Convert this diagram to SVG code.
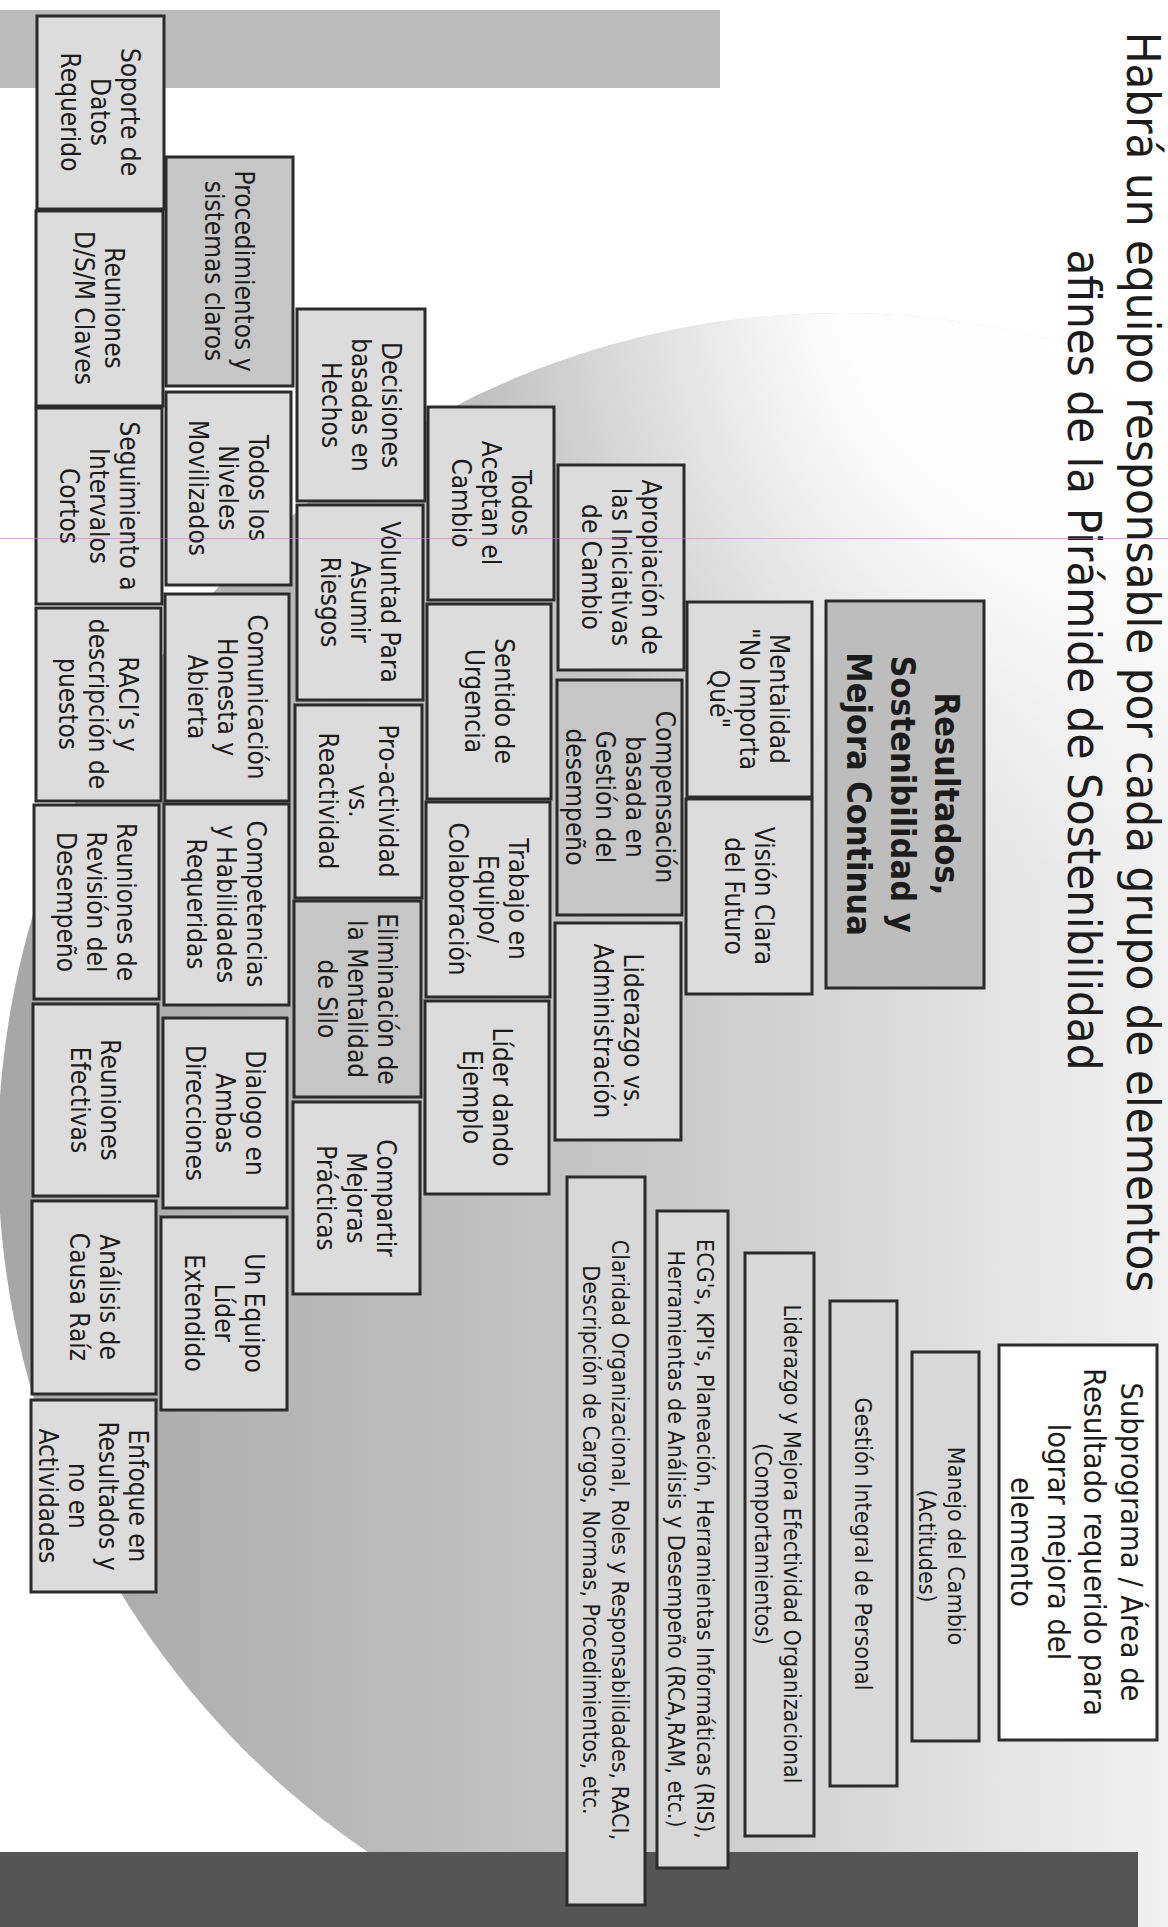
<svg xmlns="http://www.w3.org/2000/svg" width="1168" height="1927" viewBox="0 0 1168 1927">
<style>
.bx{fill:#dcdcdc;stroke:#2b2b2b;stroke-width:3}
.dk{fill:#c6c6c6;stroke:#2b2b2b;stroke-width:3}
.rs{fill:#bdbdbd;stroke:#2b2b2b;stroke-width:3}
.sb{fill:#d8d8d8;stroke:#2b2b2b;stroke-width:3}
.wh{fill:#ffffff;stroke:#2b2b2b;stroke-width:3}
.t{font-family:"DejaVu Sans","Liberation Sans",sans-serif;font-size:26px;fill:#1c1c1c;text-anchor:middle}
.tb{font-family:"DejaVu Sans","Liberation Sans",sans-serif;font-size:34px;font-weight:bold;fill:#1c1c1c;text-anchor:middle}
.ts{font-family:"DejaVu Sans","Liberation Sans",sans-serif;font-size:23px;fill:#1c1c1c;text-anchor:middle}
.tw{font-family:"DejaVu Sans","Liberation Sans",sans-serif;font-size:30.5px;fill:#1c1c1c;text-anchor:middle}
.tt{font-family:"DejaVu Sans","Liberation Sans",sans-serif;font-size:47px;fill:#1c1c1c;text-anchor:middle}
</style>
<defs>
<clipPath id="cc"><circle cx="840" cy="1155" r="842"/></clipPath>
<linearGradient id="lg" gradientUnits="userSpaceOnUse" x1="0" y1="0" x2="1168" y2="0">
<stop offset="0" stop-color="#a6a6a6"/>
<stop offset="0.55" stop-color="#c8c8c8"/>
<stop offset="0.75" stop-color="#d9d9d9"/>
<stop offset="0.88" stop-color="#e6e6e6"/>
<stop offset="1" stop-color="#f0f0f0"/>
</linearGradient>
<radialGradient id="rg" gradientUnits="userSpaceOnUse" cx="1100" cy="250" r="640">
<stop offset="0" stop-color="#ffffff" stop-opacity="1"/>
<stop offset="0.42" stop-color="#ffffff" stop-opacity="0.95"/>
<stop offset="0.7" stop-color="#ffffff" stop-opacity="0.45"/>
<stop offset="1" stop-color="#ffffff" stop-opacity="0"/>
</radialGradient>
</defs>
<rect x="0" y="0" width="1168" height="1927" fill="#ffffff"/>
<g id="background">
<g clip-path="url(#cc)">
<rect x="0" y="300" width="1168" height="1627" fill="url(#lg)"/>
<rect x="0" y="300" width="1168" height="1627" fill="url(#rg)"/>
</g>
<rect x="0" y="10" width="720" height="78" fill="#bababa"/>
<rect x="0" y="1852" width="1138" height="75" fill="#555555"/>
</g>
<g id="title">
<text class="tt" transform="translate(1127,662) rotate(90) scale(0.9,1)">Habrá un equipo responsable por cada grupo de elementos</text>
<text class="tt" transform="translate(1068,660) rotate(90) scale(0.9,1)">afines de la Pirámide de Sostenibilidad</text>
</g>
<g id="connectors"></g>
<g id="n_soporte"><rect class="bx" x="37" y="16" width="127" height="193"/><text class="t" transform="translate(100,112) rotate(90) scale(0.9,1)"><tspan x="0" y="-20.6">Soporte de</tspan><tspan x="0" y="9.4">Datos</tspan><tspan x="0" y="39.4">Requerido</tspan></text></g>
<g id="n_reuniones_dsm"><rect class="bx" x="36" y="211" width="127" height="195"/><text class="t" transform="translate(99,308) rotate(90) scale(0.9,1)"><tspan x="0" y="-5.6">Reuniones</tspan><tspan x="0" y="24.4">D/S/M Claves</tspan></text></g>
<g id="n_seguimiento"><rect class="bx" x="36" y="408" width="126" height="196"/><text class="t" transform="translate(99,506) rotate(90) scale(0.9,1)"><tspan x="0" y="-20.6">Seguimiento a</tspan><tspan x="0" y="9.4">Intervalos</tspan><tspan x="0" y="39.4">Cortos</tspan></text></g>
<g id="n_raci"><rect class="bx" x="36" y="608" width="125" height="193"/><text class="t" transform="translate(98,704) rotate(90) scale(0.9,1)"><tspan x="0" y="-20.6">RACI’s y</tspan><tspan x="0" y="9.4">descripción de</tspan><tspan x="0" y="39.4">puestos</tspan></text></g>
<g id="n_revision"><rect class="bx" x="34" y="805" width="125" height="194"/><text class="t" transform="translate(96,902) rotate(90) scale(0.9,1)"><tspan x="0" y="-20.6">Reuniones de</tspan><tspan x="0" y="9.4">Revisión del</tspan><tspan x="0" y="39.4">Desempeño</tspan></text></g>
<g id="n_efectivas"><rect class="bx" x="33" y="1004" width="125" height="192"/><text class="t" transform="translate(95,1100) rotate(90) scale(0.9,1)"><tspan x="0" y="-5.6">Reuniones</tspan><tspan x="0" y="24.4">Efectivas</tspan></text></g>
<g id="n_analisis"><rect class="bx" x="32" y="1201" width="124" height="193"/><text class="t" transform="translate(94,1297) rotate(90) scale(0.9,1)"><tspan x="0" y="-5.6">Análisis de</tspan><tspan x="0" y="24.4">Causa Raíz</tspan></text></g>
<g id="n_enfoque"><rect class="bx" x="31" y="1400" width="125" height="192"/><text class="t" transform="translate(93,1496) rotate(90) scale(0.9,1)"><tspan x="0" y="-35.6">Enfoque en</tspan><tspan x="0" y="-5.6">Resultados y</tspan><tspan x="0" y="24.4">no en</tspan><tspan x="0" y="54.4">Actividades</tspan></text></g>
<g id="n_procedimientos"><rect class="dk" x="166" y="157" width="127" height="229"/><text class="t" transform="translate(229,271) rotate(90) scale(0.9,1)"><tspan x="0" y="-5.6">Procedimientos y</tspan><tspan x="0" y="24.4">sistemas claros</tspan></text></g>
<g id="n_niveles"><rect class="bx" x="166" y="392" width="125" height="193"/><text class="t" transform="translate(228,488) rotate(90) scale(0.9,1)"><tspan x="0" y="-20.6">Todos los</tspan><tspan x="0" y="9.4">Niveles</tspan><tspan x="0" y="39.4">Movilizados</tspan></text></g>
<g id="n_comunicacion"><rect class="bx" x="165" y="594" width="124" height="207"/><text class="t" transform="translate(227,697) rotate(90) scale(0.9,1)"><tspan x="0" y="-20.6">Comunicación</tspan><tspan x="0" y="9.4">Honesta y</tspan><tspan x="0" y="39.4">Abierta</tspan></text></g>
<g id="n_competencias"><rect class="bx" x="164" y="804" width="125" height="201"/><text class="t" transform="translate(226,904) rotate(90) scale(0.9,1)"><tspan x="0" y="-20.6">Competencias</tspan><tspan x="0" y="9.4">y Habilidades</tspan><tspan x="0" y="39.4">Requeridas</tspan></text></g>
<g id="n_dialogo"><rect class="bx" x="163" y="1018" width="124" height="190"/><text class="t" transform="translate(225,1113) rotate(90) scale(0.9,1)"><tspan x="0" y="-20.6">Dialogo en</tspan><tspan x="0" y="9.4">Ambas</tspan><tspan x="0" y="39.4">Direcciones</tspan></text></g>
<g id="n_equipo_lider"><rect class="bx" x="161" y="1217" width="126" height="193"/><text class="t" transform="translate(224,1313) rotate(90) scale(0.9,1)"><tspan x="0" y="-20.6">Un Equipo</tspan><tspan x="0" y="9.4">Líder</tspan><tspan x="0" y="39.4">Extendido</tspan></text></g>
<g id="n_decisiones"><rect class="bx" x="297" y="309" width="128" height="192"/><text class="t" transform="translate(361,405) rotate(90) scale(0.9,1)"><tspan x="0" y="-20.6">Decisiones</tspan><tspan x="0" y="9.4">basadas en</tspan><tspan x="0" y="39.4">Hechos</tspan></text></g>
<g id="n_voluntad"><rect class="bx" x="297" y="505" width="126" height="195"/><text class="t" transform="translate(360,602) rotate(90) scale(0.9,1)"><tspan x="0" y="-20.6">Voluntad Para</tspan><tspan x="0" y="9.4">Asumir</tspan><tspan x="0" y="39.4">Riesgos</tspan></text></g>
<g id="n_proactividad"><rect class="bx" x="295" y="705" width="127" height="193"/><text class="t" transform="translate(358,801) rotate(90) scale(0.9,1)"><tspan x="0" y="-20.6">Pro-actividad</tspan><tspan x="0" y="9.4">vs.</tspan><tspan x="0" y="39.4">Reactividad</tspan></text></g>
<g id="n_silo"><rect class="dk" x="294" y="901" width="127" height="196"/><text class="t" transform="translate(357,999) rotate(90) scale(0.9,1)"><tspan x="0" y="-20.6">Eliminación de</tspan><tspan x="0" y="9.4">la Mentalidad</tspan><tspan x="0" y="39.4">de Silo</tspan></text></g>
<g id="n_compartir"><rect class="bx" x="293" y="1102" width="127" height="192"/><text class="t" transform="translate(356,1198) rotate(90) scale(0.9,1)"><tspan x="0" y="-20.6">Compartir</tspan><tspan x="0" y="9.4">Mejoras</tspan><tspan x="0" y="39.4">Prácticas</tspan></text></g>
<g id="n_aceptan"><rect class="bx" x="428" y="407" width="126" height="193"/><text class="t" transform="translate(491,503) rotate(90) scale(0.9,1)"><tspan x="0" y="-20.6">Todos</tspan><tspan x="0" y="9.4">Aceptan el</tspan><tspan x="0" y="39.4">Cambio</tspan></text></g>
<g id="n_urgencia"><rect class="bx" x="427" y="604" width="124" height="195"/><text class="t" transform="translate(489,701) rotate(90) scale(0.9,1)"><tspan x="0" y="-5.6">Sentido de</tspan><tspan x="0" y="24.4">Urgencia</tspan></text></g>
<g id="n_trabajo"><rect class="bx" x="426" y="802" width="124" height="195"/><text class="t" transform="translate(488,899) rotate(90) scale(0.9,1)"><tspan x="0" y="-20.6">Trabajo en</tspan><tspan x="0" y="9.4">Equipo/</tspan><tspan x="0" y="39.4">Colaboración</tspan></text></g>
<g id="n_lider_ejemplo"><rect class="bx" x="425" y="1001" width="124" height="193"/><text class="t" transform="translate(487,1097) rotate(90) scale(0.9,1)"><tspan x="0" y="-5.6">Líder dando</tspan><tspan x="0" y="24.4">Ejemplo</tspan></text></g>
<g id="n_apropiacion"><rect class="bx" x="558" y="465" width="126" height="205"/><text class="t" transform="translate(621,567) rotate(90) scale(0.9,1)"><tspan x="0" y="-20.6">Apropiación de</tspan><tspan x="0" y="9.4">las Iniciativas</tspan><tspan x="0" y="39.4">de Cambio</tspan></text></g>
<g id="n_compensacion"><rect class="dk" x="557" y="680" width="125" height="235"/><text class="t" transform="translate(620,797) rotate(90) scale(0.9,1)"><tspan x="0" y="-35.6">Compensación</tspan><tspan x="0" y="-5.6">basada en</tspan><tspan x="0" y="24.4">Gestión del</tspan><tspan x="0" y="54.4">desempeño</tspan></text></g>
<g id="n_liderazgo_vs"><rect class="bx" x="555" y="923" width="126" height="217"/><text class="t" transform="translate(618,1031) rotate(90) scale(0.9,1)"><tspan x="0" y="-5.6">Liderazgo vs.</tspan><tspan x="0" y="24.4">Administración</tspan></text></g>
<g id="n_mentalidad"><rect class="bx" x="687" y="602" width="125" height="195"/><text class="t" transform="translate(749,699) rotate(90) scale(0.9,1)"><tspan x="0" y="-20.6">Mentalidad</tspan><tspan x="0" y="9.4">"No Importa</tspan><tspan x="0" y="39.4">Qué"</tspan></text></g>
<g id="n_vision"><rect class="bx" x="686" y="799" width="126" height="195"/><text class="t" transform="translate(749,896) rotate(90) scale(0.9,1)"><tspan x="0" y="-5.6">Visión Clara</tspan><tspan x="0" y="24.4">del Futuro</tspan></text></g>
<g id="n_resultados"><rect class="rs" x="826" y="601" width="158" height="387"/><text class="tb" transform="translate(903,794) rotate(90) scale(0.9,1)"><tspan x="0" y="-32.1">Resultados,</tspan><tspan x="0" y="11.9">Sostenibilidad y</tspan><tspan x="0" y="55.9">Mejora Continua</tspan></text></g>
<g id="n_claridad"><rect class="sb" x="567" y="1177" width="78" height="728"/><text class="ts" transform="translate(606,1540) rotate(90) scale(0.9,1)"><tspan x="0" y="-6.2">Claridad Organizacional, Roles y Responsabilidades, RACI,</tspan><tspan x="0" y="22.8">Descripción de Cargos, Normas, Procedimientos, etc.</tspan></text></g>
<g id="n_ecg"><rect class="sb" x="657" y="1211" width="71" height="657"/><text class="ts" transform="translate(691,1539) rotate(90) scale(0.9,1)"><tspan x="0" y="-6.2">ECG's, KPI's, Planeación, Herramientas Informáticas (RIS),</tspan><tspan x="0" y="22.8">Herramientas de Análisis y Desempeño (RCA,RAM, etc.)</tspan></text></g>
<g id="n_liderazgo_mejora"><rect class="sb" x="745" y="1253" width="69" height="583"/><text class="ts" transform="translate(778,1544) rotate(90) scale(0.9,1)"><tspan x="0" y="-6.2">Liderazgo y Mejora Efectividad Organizacional</tspan><tspan x="0" y="22.8">(Comportamientos)</tspan></text></g>
<g id="n_gestion"><rect class="sb" x="830" y="1301" width="67" height="485"/><text class="ts" transform="translate(863,1544) rotate(90) scale(0.9,1)"><tspan x="0" y="8.3">Gestión Integral de Personal</tspan></text></g>
<g id="n_manejo"><rect class="sb" x="912" y="1352" width="67" height="389"/><text class="ts" transform="translate(942,1546) rotate(90) scale(0.9,1)"><tspan x="0" y="-6.2">Manejo del Cambio</tspan><tspan x="0" y="22.8">(Actitudes)</tspan></text></g>
<g id="n_subprograma"><rect class="wh" x="999" y="1345" width="158" height="395"/><text class="tw" transform="translate(1077,1542) rotate(90) scale(0.9,1)"><tspan x="0" y="-44.5">Subprograma / Área de</tspan><tspan x="0" y="-7.5">Resultado requerido para</tspan><tspan x="0" y="29.5">lograr mejora del</tspan><tspan x="0" y="66.5">elemento</tspan></text></g>
<line x1="0" y1="538.5" x2="1168" y2="538.5" stroke="#e070e0" stroke-width="1" opacity="0.55"/>
</svg>
